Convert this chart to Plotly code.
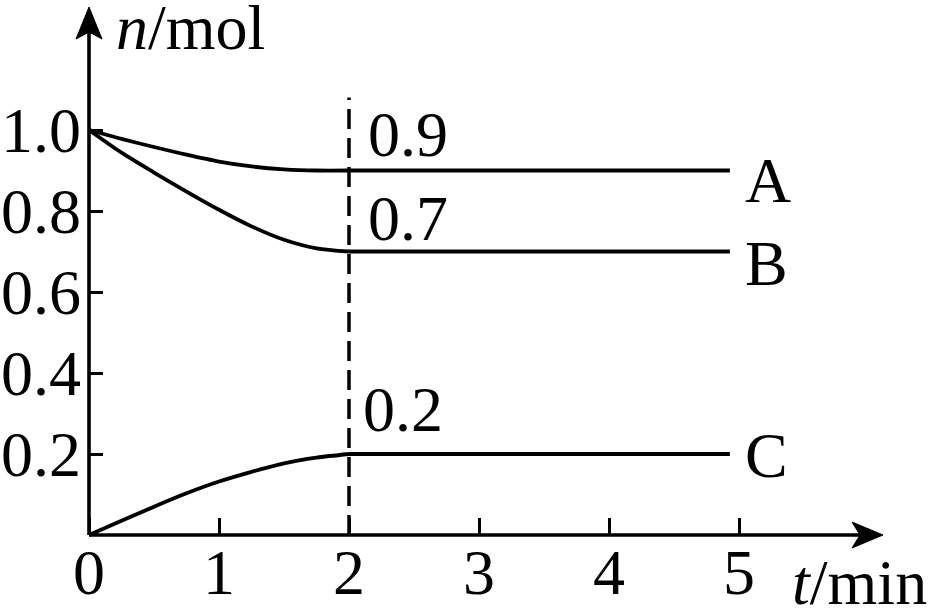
import plotly.graph_objects as go

# ---- data ----
t_curve = [0, 0.25, 0.5, 0.75, 1.0, 1.25, 1.5, 1.75, 2.0]
A_curve = [1.0, 0.978, 0.958, 0.939, 0.922, 0.910, 0.903, 0.900, 0.9]
B_curve = [1.0, 0.944, 0.895, 0.848, 0.803, 0.762, 0.729, 0.708, 0.7]
C_curve = [0.0, 0.035, 0.07, 0.103, 0.132, 0.156, 0.177, 0.191, 0.2]
t_flat = [2.0, 4.93]
A_flat = [0.9, 0.9]
B_flat = [0.7, 0.7]
C_flat = [0.2, 0.2]
series_names = ["A", "B", "C"]
point_labels = ["0.9", "0.7", "0.2"]
x_ticks = [0, 1, 2, 3, 4, 5]
x_ticktext = ["0", "1", "2", "3", "4", "5"]
y_ticks = [0.2, 0.4, 0.6, 0.8, 1.0]
y_ticktext = ["0.2", "0.4", "0.6", "0.8", "1.0"]
t_mark = 2.0
dash_top = 1.08

# ---- layout geometry ----
W, H = 928, 609
X0_PX, Y0_PX = 89, 535       # pixel position of origin
SX, SY = 130.0, 405.0        # pixels per unit
xr = [-X0_PX / SX, (W - X0_PX) / SX]
yr = [(Y0_PX - H) / SY, Y0_PX / SY]

def dx(px):
    return px / SX

def dy(px):
    return px / SY

FONT = "Liberation Serif, Times New Roman, serif"
FS = 64
LW = 3.8

fig = go.Figure()
for tc, yc, yf in [(t_curve, A_curve, A_flat), (t_curve, B_curve, B_flat), (t_curve, C_curve, C_flat)]:
    fig.add_trace(go.Scatter(x=tc, y=yc, mode="lines", line=dict(color="black", width=LW, shape="spline", smoothing=0.8),
                             showlegend=False, hoverinfo="skip"))
    fig.add_trace(go.Scatter(x=t_flat, y=yf, mode="lines", line=dict(color="black", width=LW),
                             showlegend=False, hoverinfo="skip"))

# dashed marker line at t = 2
fig.add_trace(go.Scatter(x=[t_mark, t_mark], y=[0, dash_top], mode="lines",
                         line=dict(color="black", width=3.5, dash="20px,9px"),
                         showlegend=False, hoverinfo="skip"))

x_end = xr[1] - dx(W - 883)
y_end = yr[1] - dy(7)
shapes = [
    dict(type="line", x0=0, y0=0, x1=x_end - dx(10), y1=0, line=dict(color="black", width=3.6)),
    dict(type="line", x0=0, y0=0, x1=0, y1=y_end - dy(10), line=dict(color="black", width=3.6)),
    # x arrow head
    dict(type="path", fillcolor="black", line=dict(color="black", width=1),
         path=f"M {x_end} 0 L {x_end - dx(31)} {dy(13)} L {x_end - dx(23)} 0 L {x_end - dx(31)} {-dy(13)} Z"),
    # y arrow head
    dict(type="path", fillcolor="black", line=dict(color="black", width=1),
         path=f"M 0 {y_end} L {dx(13)} {y_end - dy(32)} L 0 {y_end - dy(25)} L {-dx(13)} {y_end - dy(32)} Z"),
]

annotations = []
# value labels near t = 2
for lab, val, xs, ys in zip(point_labels, [A_flat[0], B_flat[0], C_flat[0]], [17, 17, 12], [36, 33, 45]):
    annotations.append(dict(x=t_mark, y=val, text=lab, showarrow=False, xanchor="left", yanchor="middle",
                            xshift=xs, yshift=ys, font=dict(family=FONT, size=FS, color="black")))
# series names at line ends
for lab, val, ys in zip(series_names, [A_flat[-1], B_flat[-1], C_flat[-1]], [-10, -12, -1]):
    annotations.append(dict(x=t_flat[-1], y=val, text=lab, showarrow=False, xanchor="left", yanchor="middle",
                            xshift=13, yshift=ys, font=dict(family=FONT, size=FS, color="black")))
# axis titles
annotations.append(dict(x=0, y=y_end, text="<i>n</i>/mol", showarrow=False, xanchor="left", yanchor="middle",
                        xshift=25, yshift=-20, font=dict(family=FONT, size=FS, color="black")))
annotations.append(dict(x=x_end, y=0, text="<i>t</i>/min", showarrow=False, xanchor="left", yanchor="middle",
                        xshift=-93, yshift=-47, font=dict(family=FONT, size=FS, color="black")))

fig.update_layout(
    width=W, height=H,
    margin=dict(l=0, r=0, t=0, b=0),
    paper_bgcolor="white", plot_bgcolor="white",
    shapes=shapes, annotations=annotations,
    xaxis=dict(range=xr, anchor="free", position=(H - Y0_PX) / H, showgrid=False, zeroline=False,
               showline=False, ticks="inside", ticklen=17, tickwidth=3.2, tickcolor="black",
               tickvals=x_ticks, ticktext=x_ticktext, ticklabelstandoff=-6,
               tickfont=dict(family=FONT, size=FS, color="black"), automargin=False, fixedrange=True),
    yaxis=dict(range=yr, anchor="free", position=X0_PX / W, showgrid=False, zeroline=False,
               showline=False, ticks="inside", ticklen=13, tickwidth=3.2, tickcolor="black",
               tickvals=y_ticks, ticktext=y_ticktext, ticklabelstandoff=8,
               tickfont=dict(family=FONT, size=FS, color="black"), automargin=False, fixedrange=True),
)

fig.write_html("out.html", config={"displayModeBar": False},
               post_script="document.body.style.margin='0';document.body.style.overflow='hidden';")
